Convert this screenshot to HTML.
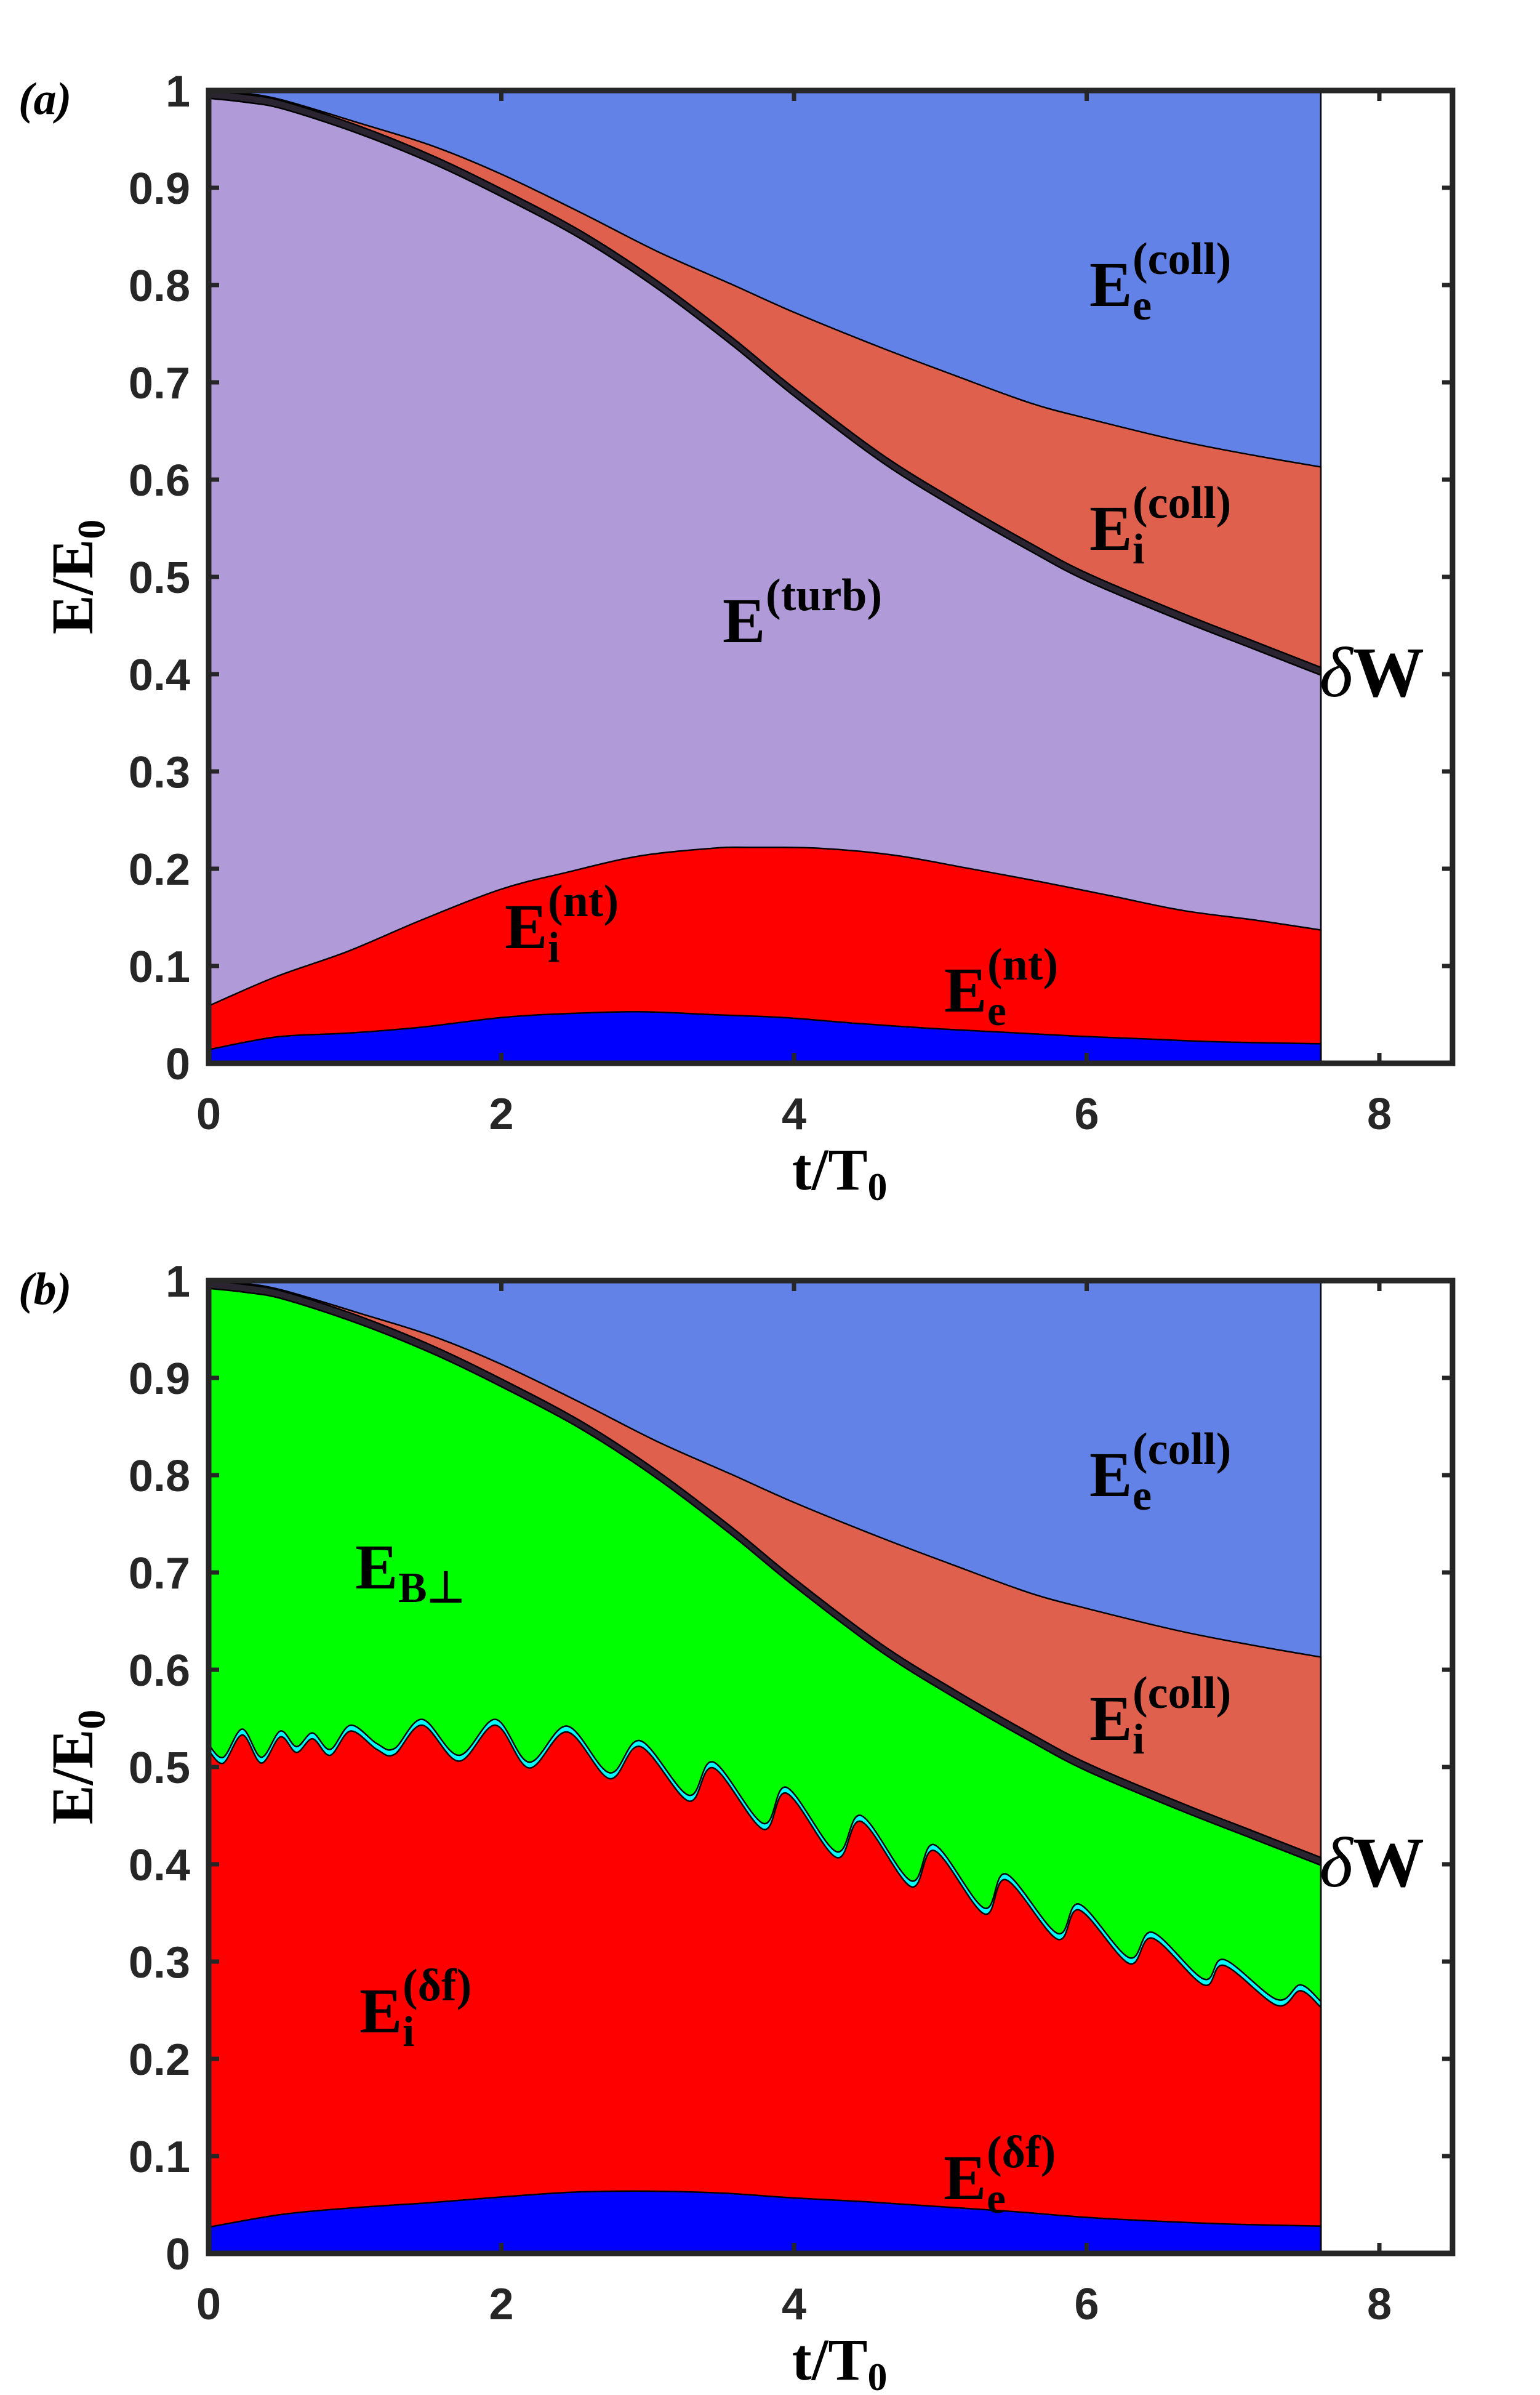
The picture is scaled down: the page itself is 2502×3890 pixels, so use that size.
<!DOCTYPE html>
<html><head><meta charset="utf-8"><style>
html,body{margin:0;padding:0;background:#fff;}
svg{display:block;}
.tick{font-family:"Liberation Sans",sans-serif;font-weight:bold;font-size:72px;fill:#262626;}
.lab{font-family:"Liberation Serif",serif;font-weight:bold;fill:#000;}
</style></head><body>
<svg id="fig" width="2502" height="3890" viewBox="0 0 2502 3890" xmlns="http://www.w3.org/2000/svg"></svg>
<script>
// ---- data ----
const xTicks = [0, 2, 4, 6, 8];
const yTicks = [0, 0.1, 0.2, 0.3, 0.4, 0.5, 0.6, 0.7, 0.8, 0.9, 1];
const yTickLabels = ["0","0.1","0.2","0.3","0.4","0.5","0.6","0.7","0.8","0.9","1"];
const tTop = [0, 0.25, 0.51, 1.02, 1.53, 2.0, 2.55, 3.06, 3.57, 4.0, 4.59, 5.1, 5.61, 6.0, 6.63, 7.14, 7.6];
const eeCollLower = [1.0, 0.997, 0.99, 0.967, 0.943, 0.914, 0.874, 0.835, 0.801, 0.772, 0.736, 0.707, 0.679, 0.663, 0.640, 0.625, 0.613];
const dWTop = [1.0, 0.996, 0.989, 0.964, 0.933, 0.899, 0.855, 0.805, 0.747, 0.694, 0.627, 0.579, 0.535, 0.504, 0.464, 0.434, 0.407];
const dWThick = 0.008;
const tNtI = [0, 0.46, 0.95, 1.45, 2.0, 2.44, 2.94, 3.44, 3.69, 4.18, 4.68, 5.17, 5.67, 6.17, 6.66, 7.16, 7.6];
const eiNt = [0.059, 0.089, 0.115, 0.147, 0.179, 0.196, 0.213, 0.221, 0.222, 0.221, 0.214, 0.201, 0.187, 0.172, 0.157, 0.147, 0.137];
const tNtE = [0, 0.46, 0.95, 1.45, 2.0, 2.44, 2.94, 3.44, 3.93, 4.43, 4.92, 5.42, 5.92, 6.41, 6.91, 7.6];
const eeNt = [0.014, 0.027, 0.031, 0.037, 0.047, 0.051, 0.053, 0.050, 0.047, 0.041, 0.036, 0.032, 0.028, 0.025, 0.022, 0.020];
const tWave = [0, 0.1, 0.23, 0.36, 0.49, 0.6, 0.71, 0.83, 0.97, 1.15, 1.27, 1.46, 1.71, 1.96, 2.19, 2.45, 2.74, 2.95, 3.28, 3.45, 3.79, 3.95, 4.29, 4.46, 4.8, 4.96, 5.3, 5.45, 5.8, 5.95, 6.29, 6.45, 6.8, 6.94, 7.3, 7.46, 7.6];
const eiDf = [0.517, 0.504, 0.533, 0.504, 0.531, 0.515, 0.529, 0.512, 0.537, 0.518, 0.513, 0.543, 0.506, 0.543, 0.499, 0.536, 0.488, 0.521, 0.465, 0.499, 0.436, 0.473, 0.407, 0.444, 0.377, 0.414, 0.349, 0.384, 0.323, 0.353, 0.298, 0.324, 0.276, 0.296, 0.255, 0.270, 0.253];
const cyanThick = 0.006;
const tDfE = [0, 0.5, 1, 1.5, 2, 2.5, 3, 3.5, 4, 4.5, 5, 5.5, 6, 6.5, 7, 7.6];
const eeDf = [0.027, 0.04, 0.047, 0.052, 0.058, 0.063, 0.064, 0.062, 0.057, 0.053, 0.048, 0.043, 0.037, 0.033, 0.03, 0.028];

const NS = "http://www.w3.org/2000/svg";
const svg = document.getElementById('fig');
function mk(tag, attrs, parent) {
  const e = document.createElementNS(NS, tag);
  for (const k in attrs) e.setAttribute(k, attrs[k]);
  (parent || svg).appendChild(e);
  return e;
}
const X0 = 339, XS = 237.75;
function panel(top, bottom) {
  return { sx: t => X0 + t * XS, sy: v => bottom - v * (bottom - top), top, bottom };
}
function pts(P, ts, vs, off) {
  return ts.map((t, i) => [P.sx(t), P.sy(vs[i] + (off || 0))]);
}
function smoothPath(p) {
  let d = `M${p[0][0]},${p[0][1]}`;
  for (let i = 0; i < p.length - 1; i++) {
    const p0 = p[i - 1] || p[i], p1 = p[i], p2 = p[i + 1], p3 = p[i + 2] || p2;
    const c1 = [p1[0] + (p2[0] - p0[0]) / 6, p1[1] + (p2[1] - p0[1]) / 6];
    const c2 = [p2[0] - (p3[0] - p1[0]) / 6, p2[1] - (p3[1] - p1[1]) / 6];
    d += ` C${c1[0]},${c1[1]} ${c2[0]},${c2[1]} ${p2[0]},${p2[1]}`;
  }
  return d;
}
function linePath(p) { return 'M' + p.map(q => q[0] + ',' + q[1]).join(' L'); }
function area(P, curve, smooth, fill, name, g) {
  const p = curve;
  const d = (smooth ? smoothPath(p) : linePath(p)) + ` L${P.sx(7.6)},${P.sy(0)} L${P.sx(0)},${P.sy(0)} Z`;
  const el = mk('path', { d, fill, stroke: '#000', 'stroke-width': 2.5 }, g);
  
  
  return el;
}
function text(x, y, s, cls, size, extra, name) {
  const el = mk('text', Object.assign({ x, y, class: cls, 'font-size': size }, extra || {}));
  el.textContent = s;
  
  
  return el;
}
function eLabel(x, y, sub, sup, name) {
  const g = mk('g', {});
  
  
  const e = mk('text', { x, y, class: 'lab', 'font-size': 104 }, g); e.textContent = 'E';
  if (sup) { const s = mk('text', { x: x + 70, y: y - 52, class: 'lab', 'font-size': 74, 'font-weight': 'normal' }, g); s.textContent = sup; }
  if (sub) { const s = mk('text', { x: x + 70, y: y + 22, class: 'lab', 'font-size': 70 }, g); s.textContent = sub; }
}
function axes(P, letter) {
  const g = mk('g', {});
  
  
  const L = P.sx(0), R = P.sx(8.5);
  xTicks.forEach(t => {
    const tk = mk('path', { d: `M${P.sx(t)},${P.bottom} v-17 M${P.sx(t)},${P.top} v17`, stroke: '#262626', 'stroke-width': 7 }, g);
    
    
    text(P.sx(t), P.bottom + 107, String(t), 'tick', 72, { 'text-anchor': 'middle' }, 'x-tick-label');
  });
  yTicks.forEach((v, i) => {
    const tk = mk('path', { d: `M${L},${P.sy(v)} h17 M${R},${P.sy(v)} h-17`, stroke: '#262626', 'stroke-width': 7 }, g);
    
    
    text(L - 30, P.sy(v) + 26, yTickLabels[i], 'tick', 72, { 'text-anchor': 'end' }, 'y-tick-label');
  });
  const box = mk('rect', { x: L, y: P.top, width: R - L, height: P.bottom - P.top, fill: 'none', stroke: '#262626', 'stroke-width': 9 }, g);
  
  
  text((L + R) / 2, P.bottom + 205, 't/T', 'lab', 96, { 'text-anchor': 'end', dx: 60 }, 'x-axis-title');
  text((L + R) / 2 + 60, P.bottom + 222, '0', 'lab', 64, { 'font-weight': 'normal' }, 'x-axis-title-sub');
  const yt = mk('text', { x: 0, y: 0, class: 'lab', 'font-size': 96, 'text-anchor': 'middle', transform: `translate(150,${(P.top + P.bottom) / 2}) rotate(-90)` });
  
  
  yt.innerHTML = 'E/E<tspan font-size="64" dy="20">0</tspan>';
  text(30, P.top + 38, '(' + letter + ')', 'lab', 74, { 'font-style': 'italic', 'font-weight': 'normal' }, 'panel-label-' + letter);
  const dw = mk('text', { x: P.sx(7.6) - 2, y: P.sy(0.4) + 36, class: 'lab', 'font-size': 116 });
  
  
  dw.innerHTML = '<tspan font-style="italic" font-weight="normal">δ</tspan>W';
}

// ---- panel a ----
const A = panel(147, 1727);
const ga = mk('g', {});  
area(A, [[A.sx(0), A.sy(1)], [A.sx(7.6), A.sy(1)]], false, '#6282E8', 'area-ee-coll', ga);
area(A, pts(A, tTop, eeCollLower), true, '#E0604E', 'area-ei-coll', ga);
area(A, pts(A, tTop, dWTop), true, '#2a2430', 'area-delta-w', ga);
area(A, pts(A, tTop, dWTop, -dWThick), true, '#B09AD8', 'area-e-turb', ga);
area(A, pts(A, tNtI, eiNt), true, '#FF0000', 'area-ei-nt', ga);
area(A, pts(A, tNtE, eeNt), true, '#0000FF', 'area-ee-nt', ga);
axes(A, 'a');
eLabel(1770, 497, 'e', '(coll)', 'label-ee-coll-a');
eLabel(1770, 893, 'i', '(coll)', 'label-ei-coll-a');
eLabel(1174, 1043, '', '(turb)', 'label-e-turb');
eLabel(820, 1540, 'i', '(nt)', 'label-ei-nt');
eLabel(1534, 1643, 'e', '(nt)', 'label-ee-nt');

// ---- panel b ----
const B = panel(2080, 3660);
const gb = mk('g', {});  
area(B, [[B.sx(0), B.sy(1)], [B.sx(7.6), B.sy(1)]], false, '#6282E8', 'area-ee-coll-b', gb);
area(B, pts(B, tTop, eeCollLower), true, '#E0604E', 'area-ei-coll-b', gb);
area(B, pts(B, tTop, dWTop), true, '#2a2430', 'area-delta-w-b', gb);
area(B, pts(B, tTop, dWTop, -dWThick), true, '#00FF00', 'area-e-bperp', gb);
area(B, pts(B, tWave, eiDf, cyanThick), true, '#00FFFF', 'area-cyan-band', gb);
area(B, pts(B, tWave, eiDf), true, '#FF0000', 'area-ei-df', gb);
area(B, pts(B, tDfE, eeDf), true, '#0000FF', 'area-ee-df', gb);
axes(B, 'b');
eLabel(1770, 2430, 'e', '(coll)', 'label-ee-coll-b');
eLabel(1770, 2826, 'i', '(coll)', 'label-ei-coll-b');
eLabel(577, 2580, 'B⊥', '', 'label-e-bperp');
eLabel(584, 3301, 'i', '(δf)', 'label-ei-df');
eLabel(1533, 3572, 'e', '(δf)', 'label-ee-df');
</script>
</body></html>
